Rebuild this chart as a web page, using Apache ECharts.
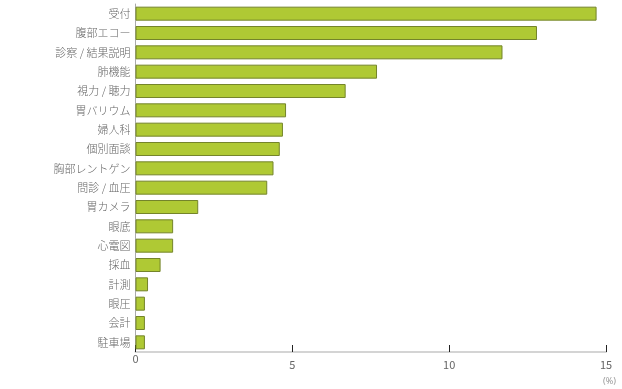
<!DOCTYPE html>
<html><head><meta charset="utf-8">
<script src="https://cdn.jsdelivr.net/npm/echarts@6/dist/echarts.min.js"></script>
<style>html,body{margin:0;padding:0;background:#fff}#c{width:622px;height:389px}</style>
</head><body><div id="c"></div>
<script>
const categories = ['受付','腹部エコー','診察 / 結果説明','肺機能','視力 / 聴力','胃バリウム','婦人科','個別面談','胸部レントゲン','問診 / 血圧','胃カメラ','眼底','心電図','採血','計測','眼圧','会計','駐車場'];
const values = [14.7,12.8,11.7,7.7,6.7,4.8,4.7,4.6,4.4,4.2,2.0,1.2,1.2,0.8,0.4,0.3,0.3,0.3];
const xTicks = [0,5,10,15];
const unitLabel = '(%)';

const chart = echarts.init(document.getElementById('c'));
chart.setOption({
  animation:false,
  textStyle:{fontFamily:'"Noto Sans CJK JP", "Noto Sans", sans-serif'},
  grid:{left:135.5,right:16,top:4,bottom:37,containLabel:false},
  xAxis:{type:'value',min:0,max:15,interval:5,
    axisLine:{show:true,lineStyle:{color:'#d4d4d4',width:2}},
    axisTick:{show:true,inside:true,length:7,lineStyle:{color:'#222',width:1}},
    splitLine:{show:false},
    axisLabel:{margin:1,color:'#666',fontSize:11,
      formatter:v=> xTicks.indexOf(v)===0 ? '{a|'+v+'}' : '{b|'+v+'}',
      rich:{a:{color:'#666',fontSize:11,padding:[0,0,0,0]},b:{color:'#666',fontSize:11,padding:[6,0,0,0]}}}
  },
  yAxis:{type:'category',data:categories,inverse:true,
    axisLine:{show:true,lineStyle:{color:'#aaa',width:1}},
    axisTick:{show:false},
    axisLabel:{margin:5,color:'#666',fontSize:11,fontWeight:300}
  },
  graphic:[{type:'text',right:6,bottom:3,style:{text:unitLabel,fill:'#999',fontSize:9,fontFamily:'"Noto Sans", sans-serif'}}],
  series:[{type:'bar',data:values,barWidth:14,
    itemStyle:{color:'#afc934',borderColor:'#74842a',borderWidth:1}
  }]
});
</script></body></html>
